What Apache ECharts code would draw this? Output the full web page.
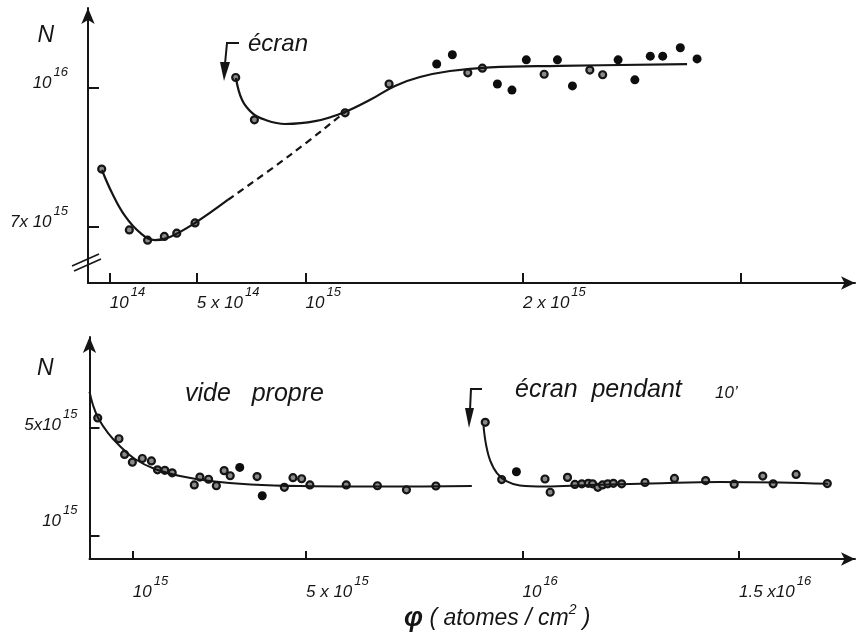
<!DOCTYPE html>
<html><head><meta charset="utf-8">
<script src="https://cdn.jsdelivr.net/npm/echarts@6/dist/echarts.min.js"></script>
<style>html,body{margin:0;padding:0;background:#fff}#c{width:856px;height:638px}</style>
</head><body><div id="c"></div>
<script>
// ---------- TOP PANEL (x in units of 1e14 atomes/cm2, N in units of 1e15) ----------
const topXTickValues = [1, 5, 10, 20, 30];
const topXLabelValues = [1, 5, 10, 20];
const topXLabelText = [['10','14'], ['5 x 10','14'], ['10','15'], ['2 x 10','15']];
const topYTickValues = [7, 10];
const topYLabelText = [['7x 10','15'], ['10','16']];

const topOpenPts = [[0.63,8.24],[1.90,6.93],[2.74,6.71],[3.51,6.79],[4.08,6.86],[4.92,7.08],
  [6.79,10.21],[7.65,9.30],[11.82,9.45],[13.84,10.07],[17.46,10.31],[18.13,10.41],[20.97,10.28],[23.07,10.37],[23.66,10.27]];
const topFilledPts = [[16.03,10.50],[16.75,10.70],[18.82,10.07],[19.49,9.94],[20.15,10.59],[21.58,10.59],
  [22.27,10.03],[24.37,10.59],[25.14,10.16],[25.85,10.67],[26.42,10.67],[27.23,10.85],[28.00,10.61]];
const topCurveVide = [[0.64,8.22],[1.10,7.73],[1.70,7.23],[2.39,6.87],[3.08,6.71],[3.77,6.78],[4.92,7.08],[6.44,7.58]];
const topCurveDashed = [[6.44,7.58],[9.29,8.54],[11.82,9.47]];
const topCurveEcran = [[6.80,10.20],[7.08,9.73],[7.54,9.45],[8.14,9.30],[9.06,9.21],[10.44,9.27],[11.82,9.47],
  [12.97,9.73],[14.11,10.03],[15.26,10.22],[16.64,10.35],[18.48,10.43],[21.70,10.46],[27.54,10.50]];

// ---------- BOTTOM PANEL (x in units of 1e15 atomes/cm2, N in units of 1e15) ----------
const botXTickValues = [1, 5, 10, 15];
const botXLabelText = [['10','15'], ['5 x 10','15'], ['10','16'], ['1.5 x10','16']];
const botYTickValues = [1, 5];
const botYLabelText = [['10','15'], ['5x10','15']];

const botVidePts = [[0.19,5.36],[0.68,4.59],[0.81,4.01],[0.99,3.72],[1.22,3.86],[1.43,3.77],[1.57,3.44],[1.74,3.42],
  [1.91,3.33],[2.42,2.88],[2.55,3.17],[2.75,3.09],[2.93,2.85],[3.11,3.41],[3.25,3.22],[3.87,3.19],[4.50,2.79],
  [4.70,3.15],[4.90,3.11],[5.09,2.88],[5.93,2.88],[6.65,2.85],[7.32,2.70],[8.00,2.84]];
const botVideFilled = [[3.47,3.53],[3.99,2.48]];
const botVideCurve = [[0,6.33],[0.08,5.84],[0.20,5.36],[0.43,4.80],[0.70,4.32],[1.05,3.84],[1.51,3.47],[2.09,3.21],
  [2.78,3.03],[3.72,2.90],[4.87,2.84],[7.17,2.82],[8.83,2.84]];
const botEcranPts = [[9.14,5.20],[9.52,3.08],[10.52,3.10],[10.64,2.61],[11.04,3.16],[11.21,2.90],[11.37,2.92],[11.52,2.94],
  [11.62,2.92],[11.74,2.79],[11.85,2.88],[11.97,2.92],[12.10,2.94],[12.29,2.92],[12.83,2.97],[13.51,3.12],[14.23,3.04],
  [14.89,2.91],[15.55,3.21],[15.79,2.92],[16.32,3.27],[17.04,2.93]];
const botEcranFilled = [[9.86,3.37]];
const botEcranCurve = [[9.10,5.06],[9.16,4.36],[9.25,3.80],[9.41,3.32],[9.64,3.01],[9.94,2.86],[10.52,2.82],[11.56,2.88],
  [12.95,2.93],[14.56,2.99],[15.95,2.97],[17.06,2.92]];

// ---------- styling ----------
const INK = '#151515';
const FONT = "'Liberation Sans', Arial, sans-serif";
// rich styles: base + superscript; "u" variants are raised by an extra amount
function makeRich(up) {
  return {
    b: {fontSize: 17, fontStyle: 'italic', fontFamily: FONT, color: INK, padding: [0, 0, up * 2, 0]},
    s: {fontSize: 13, fontStyle: 'italic', fontFamily: FONT, color: INK, padding: [0, 0, 22 + up * 2, 2]}
  };
}
function fmt(values, texts, styleNames) {
  return function (v) {
    for (let i = 0; i < values.length; i++) {
      if (Math.abs(values[i] - v) < 1e-6) {
        const n = styleNames ? styleNames[i] : '';
        return '{b' + n + '|' + texts[i][0] + '}{s' + n + '|' + texts[i][1] + '}';
      }
    }
    return '';
  };
}
const richBase = makeRich(0);
const richUp = makeRich(12);
const rich = {b: richBase.b, s: richBase.s, bU: richUp.b, sU: richUp.s};

const axisLine = (arrowSize) => ({show: true, onZero: false, symbol: ['none', 'arrow'], symbolSize: arrowSize,
  lineStyle: {color: INK, width: 2}});

const openStyle = {color: '#8a8a8a', borderColor: INK, borderWidth: 2.2, opacity: 1};
const filledStyle = {color: '#0d0d0d', opacity: 1};

const option = {
  backgroundColor: '#fff',
  animation: false,
  grid: [
    {left: 88, top: 8, width: 767, height: 275},
    {left: 89.5, top: 337, width: 765.5, height: 222}
  ],
  xAxis: [
    {gridIndex: 0, type: 'value', min: 0, max: 35.26, axisLine: axisLine([10, 14]),
      axisTick: {show: true, inside: true, length: 10, customValues: topXTickValues, lineStyle: {color: INK, width: 2}},
      axisLabel: {customValues: topXLabelValues, formatter: fmt(topXLabelValues, topXLabelText), align: 'left', margin: 3, rich: rich},
      splitLine: {show: false}},
    {gridIndex: 1, type: 'value', min: 0, max: 17.68, axisLine: axisLine([10, 14]),
      axisTick: {show: true, inside: true, length: 8, customValues: botXTickValues, lineStyle: {color: INK, width: 2}},
      axisLabel: {customValues: botXTickValues, formatter: fmt(botXTickValues, botXLabelText), align: 'left', margin: 16, rich: rich},
      splitLine: {show: false}}
  ],
  yAxis: [
    {gridIndex: 0, type: 'value', min: 5.788, max: 11.706, axisLine: axisLine([10, 16]),
      axisTick: {show: true, inside: true, length: 11, customValues: topYTickValues, lineStyle: {color: INK, width: 2}},
      axisLabel: {customValues: topYTickValues, formatter: fmt(topYTickValues, topYLabelText), margin: 20, verticalAlign: 'middle',
        padding: [0, 0, 8, 0], rich: rich},
      splitLine: {show: false},
      name: 'N', nameLocation: 'end', nameGap: -28,
      nameTextStyle: {fontSize: 23, fontStyle: 'italic', fontFamily: FONT, color: INK, align: 'right', verticalAlign: 'middle', padding: [0, 34, 0, 0]}},
    {gridIndex: 1, type: 'value', min: 0.137, max: 8.359, axisLine: axisLine([10, 16]),
      axisTick: {show: true, inside: true, length: 10, customValues: botYTickValues, lineStyle: {color: INK, width: 2}},
      axisLabel: {customValues: botYTickValues, formatter: fmt(botYTickValues, botYLabelText, ['U', '']), margin: 12, verticalAlign: 'middle',
        padding: [0, 0, 4, 0], rich: rich},
      splitLine: {show: false},
      name: 'N', nameLocation: 'end', nameGap: -32,
      nameTextStyle: {fontSize: 23, fontStyle: 'italic', fontFamily: FONT, color: INK, align: 'right', verticalAlign: 'middle', padding: [0, 36, 0, 0]}}
  ],
  series: [
    {type: 'line', xAxisIndex: 0, yAxisIndex: 0, data: topCurveVide, smooth: 0.4, showSymbol: false, lineStyle: {color: INK, width: 2.2}},
    {type: 'line', xAxisIndex: 0, yAxisIndex: 0, data: topCurveDashed, smooth: 0.4, showSymbol: false, lineStyle: {color: INK, width: 2.2, type: [7, 5]}},
    {type: 'line', xAxisIndex: 0, yAxisIndex: 0, data: topCurveEcran, smooth: 0.4, showSymbol: false, lineStyle: {color: INK, width: 2.2}},
    {type: 'scatter', xAxisIndex: 0, yAxisIndex: 0, data: topOpenPts, symbolSize: 7, itemStyle: openStyle},
    {type: 'scatter', xAxisIndex: 0, yAxisIndex: 0, data: topFilledPts, symbolSize: 9, itemStyle: filledStyle},
    {type: 'line', xAxisIndex: 1, yAxisIndex: 1, data: botVideCurve, smooth: 0.4, showSymbol: false, lineStyle: {color: INK, width: 2}},
    {type: 'line', xAxisIndex: 1, yAxisIndex: 1, data: botEcranCurve, smooth: 0.4, showSymbol: false, lineStyle: {color: INK, width: 2}},
    {type: 'scatter', xAxisIndex: 1, yAxisIndex: 1, data: botVidePts, symbolSize: 7, itemStyle: openStyle},
    {type: 'scatter', xAxisIndex: 1, yAxisIndex: 1, data: botVideFilled, symbolSize: 9, itemStyle: filledStyle},
    {type: 'scatter', xAxisIndex: 1, yAxisIndex: 1, data: botEcranPts, symbolSize: 7, itemStyle: openStyle},
    {type: 'scatter', xAxisIndex: 1, yAxisIndex: 1, data: botEcranFilled, symbolSize: 9, itemStyle: filledStyle}
  ],
  graphic: [
    // axis break marks
    {type: 'line', shape: {x1: 72, y1: 266, x2: 99, y2: 254}, style: {stroke: INK, lineWidth: 1.6}},
    {type: 'line', shape: {x1: 74, y1: 271, x2: 101, y2: 259}, style: {stroke: INK, lineWidth: 1.6}},
    // top "écran" arrow
    {type: 'polyline', shape: {points: [[239, 43], [227, 43], [225, 64]]}, style: {stroke: INK, lineWidth: 2, fill: null}},
    {type: 'polygon', shape: {points: [[220, 62], [230, 62], [224, 81]]}, style: {fill: INK}},
    {type: 'text', left: 248, top: 32, style: {text: 'écran', font: 'italic 24px ' + FONT, fill: INK}},
    // bottom annotations
    {type: 'text', left: 185, top: 382, style: {text: 'vide   propre', font: 'italic 25px ' + FONT, fill: INK}},
    {type: 'polyline', shape: {points: [[482, 389], [471, 389], [470, 410]]}, style: {stroke: INK, lineWidth: 2, fill: null}},
    {type: 'polygon', shape: {points: [[465, 408], [474, 408], [469, 428]]}, style: {fill: INK}},
    {type: 'text', left: 515, top: 378, style: {text: 'écran  pendant', font: 'italic 25px ' + FONT, fill: INK}},
    {type: 'text', left: 715, top: 385, style: {text: '10\u2019', font: 'italic 17px ' + FONT, fill: INK}},
    // x-axis title
    {type: 'text', left: 404, top: 603, style: {
      text: '{p|\u03C6}{t| ( atomes / cm}{s|2}{t| )}',
      rich: {p: {font: 'italic bold 27px ' + FONT, fill: INK},
             t: {font: 'italic 23px ' + FONT, fill: INK},
             s: {font: 'italic 14px ' + FONT, fill: INK, padding: [0, 0, 18, 0]}}}}
  ]
};
const chart = echarts.init(document.getElementById('c'), null, {renderer: 'canvas'});
chart.setOption(option);
</script>
</body></html>
